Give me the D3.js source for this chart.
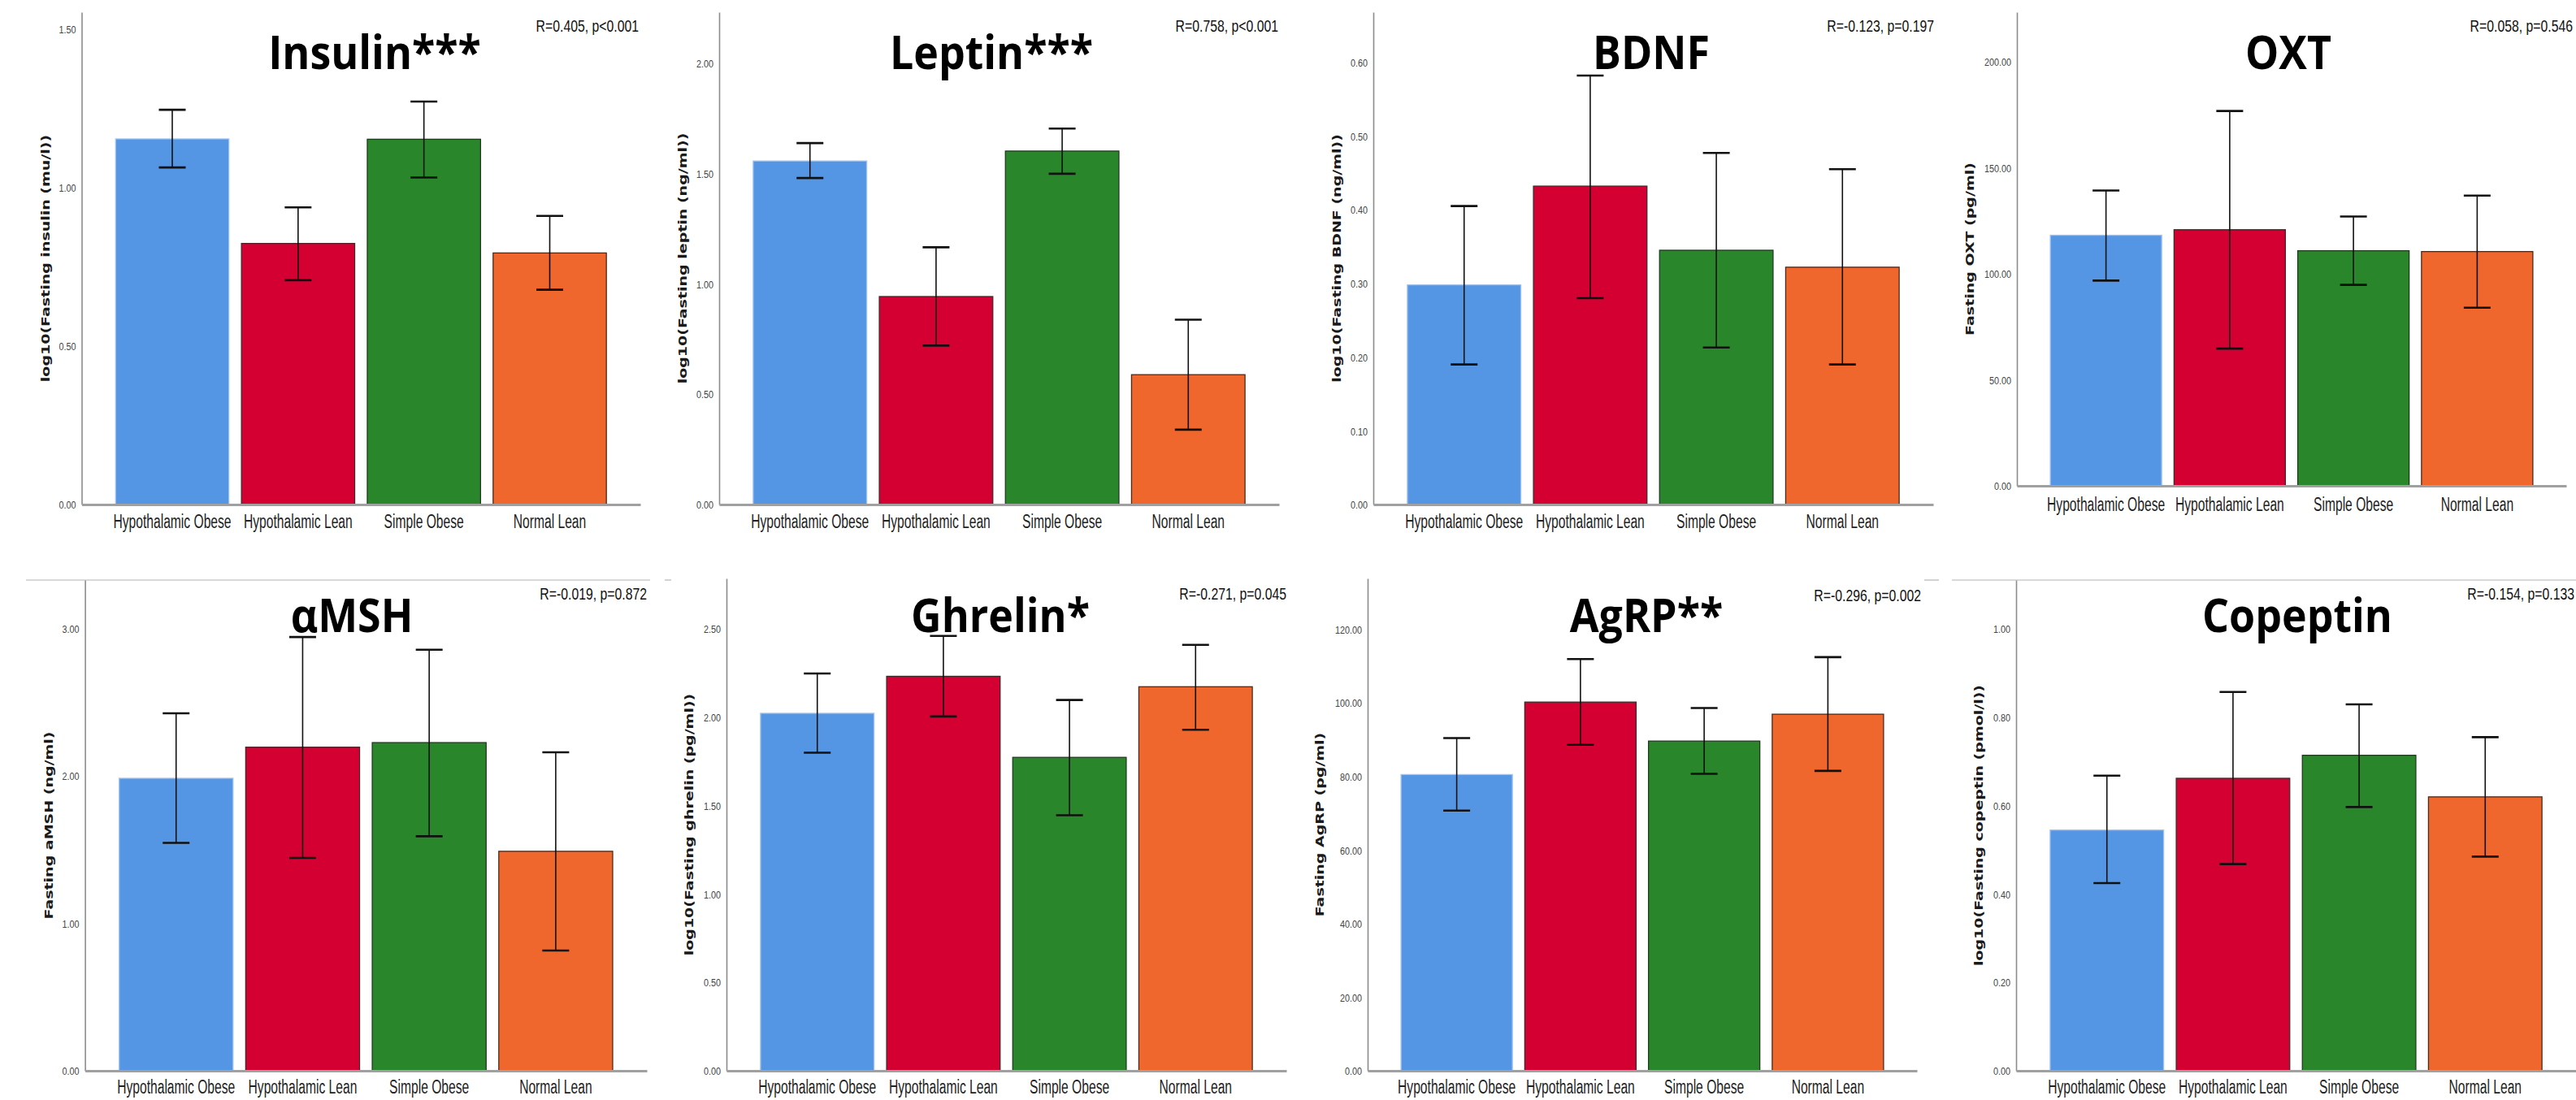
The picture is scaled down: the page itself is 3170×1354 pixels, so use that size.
<!DOCTYPE html>
<html>
<head>
<meta charset="utf-8">
<script src="https://cdn.jsdelivr.net/npm/d3@7"></script>
<style>
body { margin: 0; background: #fff; }
svg { display: block; }
</style>
</head>
<body>
<div id="chart"></div>
<script>
// groups on every x axis
var groups = ["Hypothalamic Obese", "Hypothalamic Lean", "Simple Obese", "Normal Lean"];

var titles = ["Insulin***", "Leptin***", "BDNF", "OXT", "αMSH", "Ghrelin*", "AgRP**", "Copeptin"];
var yTitles = ["log10(Fasting insulin (mu/l))", "log10(Fasting leptin (ng/ml))", "log10(Fasting BDNF (ng/ml))",
               "Fasting OXT (pg/ml)", "Fasting aMSH (ng/ml)", "log10(Fasting ghrelin (pg/ml))",
               "Fasting AgRP (pg/ml)", "log10(Fasting copeptin (pmol/l))"];
var stats = ["R=0.405, p<0.001", "R=0.758, p<0.001", "R=-0.123, p=0.197", "R=0.058, p=0.546",
             "R=-0.019, p=0.872", "R=-0.271, p=0.045", "R=-0.296, p=0.002", "R=-0.154, p=0.133"];

// bar heights, one row per panel, same order as groups
var means = [
  [1.154, 0.824, 1.153, 0.794],
  [1.556, 0.942, 1.601, 0.588],
  [0.298, 0.432, 0.345, 0.322],
  [118.2, 120.8, 110.9, 110.5],
  [1.983, 2.194, 2.225, 1.488],
  [2.020, 2.229, 1.771, 2.170],
  [80.5, 100.2, 89.6, 96.9],
  [0.544, 0.661, 0.713, 0.619]
];
// error bar ends
var lowers = [
  [1.064, 0.708, 1.032, 0.678],
  [1.479, 0.720, 1.498, 0.339],
  [0.190, 0.280, 0.213, 0.190],
  [96.8, 64.7, 94.8, 84.0],
  [1.545, 1.443, 1.590, 0.815],
  [1.797, 2.002, 1.444, 1.927],
  [70.7, 88.6, 80.7, 81.5],
  [0.424, 0.467, 0.596, 0.484]
];
var uppers = [
  [1.246, 0.938, 1.272, 0.911],
  [1.637, 1.165, 1.703, 0.837],
  [0.405, 0.582, 0.477, 0.455],
  [139.3, 176.8, 127.0, 136.9],
  [2.424, 2.941, 2.855, 2.159],
  [2.245, 2.457, 2.095, 2.407],
  [90.4, 111.9, 98.6, 112.4],
  [0.667, 0.856, 0.828, 0.754]
];
// y axes
var yMax = [1.554, 2.23, 0.668, 223.4, 3.327, 2.782, 133.8, 1.109];
var yTicks = [
  [0, 0.5, 1, 1.5],
  [0, 0.5, 1, 1.5, 2],
  [0, 0.1, 0.2, 0.3, 0.4, 0.5, 0.6],
  [0, 50, 100, 150, 200],
  [0, 1, 2, 3],
  [0, 0.5, 1, 1.5, 2, 2.5],
  [0, 20, 40, 60, 80, 100, 120],
  [0, 0.2, 0.4, 0.6, 0.8, 1]
];

// where each panel sits (px)
var layout = [
  {x0: 100.5, x1: 788,  top: 15,  base: 621,  lab: 650,  tx: 461,  ty: 85,  rx: 786,  ry: 39,  ax: 56},
  {x0: 885,   x1: 1574, top: 15,  base: 621,  lab: 650,  tx: 1220, ty: 85,  rx: 1573, ry: 39,  ax: 840},
  {x0: 1690,  x1: 2379, top: 15,  base: 621,  lab: 650,  tx: 2032, ty: 85,  rx: 2380, ry: 39,  ax: 1645},
  {x0: 2482,  x1: 3158, top: 15,  base: 598,  lab: 629,  tx: 2816, ty: 85,  rx: 3166, ry: 39,  ax: 2424},
  {x0: 104.6, x1: 796,  top: 714, base: 1318, lab: 1346, tx: 433,  ty: 778, rx: 796,  ry: 738, ax: 60},
  {x0: 894,   x1: 1583, top: 712, base: 1318, lab: 1346, tx: 1231, ty: 778, rx: 1583, ry: 738, ax: 848},
  {x0: 1683,  x1: 2359, top: 712, base: 1318, lab: 1346, tx: 2026, ty: 778, rx: 2364, ry: 740, ax: 1624},
  {x0: 2481,  x1: 3170, top: 714, base: 1318, lab: 1346, tx: 2827, ty: 778, rx: 3168, ry: 738, ax: 2435}
];

var fills = ["#5596e4", "#d50032", "#2a862a", "#f0672d"];
var strokes = ["#9fc2ee", "#3b2a2a", "#1f3a1f", "#4a2a1a"];

var W = 3170, H = 1354;
var fmt = d3.format(".2f");
var narrow = "'Liberation Sans', Arial, sans-serif";

const svg = d3.select("#chart").append("svg")
  .attr("width", W)
  .attr("height", H);

svg.append("rect").attr("width", W).attr("height", H).attr("fill", "#fff");

// frame remnants along the top of the bottom row
[[32, 800], [818, 826], [2368, 2386], [2402, 3170]].forEach(function (s) {
  svg.append("line")
    .attr("x1", s[0]).attr("x2", s[1])
    .attr("y1", 714).attr("y2", 714)
    .attr("stroke", "#b4b4b4").attr("stroke-width", 1.2);
});

titles.forEach(function (title, i) {
  var L = layout[i];
  var g = svg.append("g");

  var x = d3.scaleBand()
    .domain(groups)
    .range([L.x0, L.x1])
    .paddingInner(0.1)
    .paddingOuter(0.27);
  var y = d3.scaleLinear()
    .domain([0, yMax[i]])
    .range([L.base, L.top]);

  var rows = groups.map(function (k, j) {
    return {group: k, j: j, mean: means[i][j], lo: lowers[i][j], hi: uppers[i][j]};
  });

  // bars
  g.selectAll("rect.bar").data(rows).enter().append("rect")
    .attr("class", "bar")
    .attr("x", function (d) { return x(d.group); })
    .attr("width", x.bandwidth())
    .attr("y", function (d) { return y(d.mean); })
    .attr("height", function (d) { return y(0) - y(d.mean); })
    .attr("fill", function (d) { return fills[d.j]; })
    .attr("stroke", function (d) { return strokes[d.j]; })
    .attr("stroke-width", 1.3);

  // y axis
  var yAxis = g.append("g")
    .attr("transform", "translate(" + L.x0 + ",0)")
    .call(d3.axisLeft(y).tickValues(yTicks[i]).tickFormat(fmt).tickSize(0).tickSizeOuter(0).tickPadding(0));
  yAxis.select(".domain").attr("stroke", "#8c8c8c").attr("stroke-width", 1.6);
  yAxis.selectAll("text")
    .attr("x", -7 / 0.8)
    .attr("dy", "0.36em")
    .attr("transform", "scale(0.8,1)")
    .attr("font-family", narrow)
    .attr("font-size", 13.5)
    .attr("fill", "#444");

  // x axis
  var xAxis = g.append("g")
    .attr("transform", "translate(0," + L.base + ")")
    .call(d3.axisBottom(x).tickSize(0).tickSizeOuter(0));
  xAxis.select(".domain").attr("stroke", "#a0a0a0").attr("stroke-width", 3);
  xAxis.selectAll("text")
    .attr("y", L.lab - L.base)
    .attr("dy", null)
    .attr("transform", "scale(0.68,1)")
    .attr("font-family", narrow)
    .attr("font-size", 23)
    .attr("fill", "#222");

  // error bars
  var eb = g.selectAll("g.err").data(rows).enter().append("g")
    .attr("class", "err")
    .attr("transform", function (d) { return "translate(" + (x(d.group) + x.bandwidth() / 2) + ",0)"; });
  eb.append("line")
    .attr("y1", function (d) { return y(d.lo); })
    .attr("y2", function (d) { return y(d.hi); })
    .attr("stroke", "#111").attr("stroke-width", 1.6);
  eb.selectAll("line.cap")
    .data(function (d) { return [d.lo, d.hi]; })
    .enter().append("line")
    .attr("class", "cap")
    .attr("x1", -16.5).attr("x2", 16.5)
    .attr("y1", function (v) { return y(v); })
    .attr("y2", function (v) { return y(v); })
    .attr("stroke", "#111").attr("stroke-width", 2.6);

  // y axis title
  g.append("text")
    .attr("transform", "translate(" + L.ax + "," + ((L.top + L.base) / 2) + ") scale(0.72,1) rotate(-90)")
    .attr("text-anchor", "middle")
    .attr("dy", "0.35em")
    .attr("font-family", "'DejaVu Sans', Verdana, sans-serif")
    .attr("font-weight", "bold")
    .attr("font-size", 19)
    .attr("fill", "#1a1a1a")
    .text(yTitles[i]);

  // panel title
  g.append("text")
    .attr("transform", "translate(" + L.tx + "," + L.ty + ") scale(0.91,1)")
    .attr("text-anchor", "middle")
    .attr("font-family", "'Open Sans', Lato, sans-serif")
    .attr("font-weight", "bold")
    .attr("font-size", 57)
    .attr("fill", "#000")
    .text(title);

  // correlation note
  g.append("text")
    .attr("transform", "translate(" + L.rx + "," + L.ry + ") scale(0.81,1)")
    .attr("text-anchor", "end")
    .attr("font-family", narrow)
    .attr("font-size", 19.5)
    .attr("fill", "#111")
    .text(stats[i]);
});
</script>
</body>
</html>
